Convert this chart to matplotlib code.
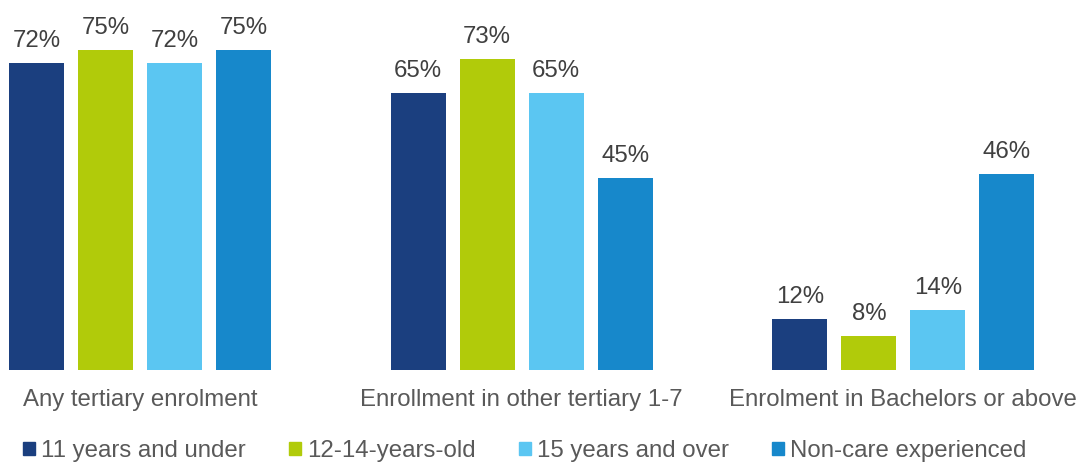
import matplotlib.pyplot as plt
import numpy as np
from matplotlib.patches import Patch

categories = ["Any tertiary enrolment", "Enrollment in other tertiary 1-7",
              "Enrolment in Bachelors or above"]
series = ["11 years and under", "12-14-years-old", "15 years and over",
          "Non-care experienced"]
values = [
    [72, 65, 12],
    [75, 73, 8],
    [72, 65, 14],
    [75, 45, 46],
]
colors = ["#1b3f7f", "#b1cb0a", "#5bc6f2", "#1788cb"]


def main():
    plt.rcParams["font.family"] = ["Liberation Sans", "DejaVu Sans"]
    fs = 17.3

    fig = plt.figure(figsize=(10.8, 4.62), dpi=100)
    ax = fig.add_axes([0, 92 / 462, 1, 370 / 462])

    x = np.arange(len(categories))
    step = 0.1808
    width = 0.144
    for i, (name, vals) in enumerate(zip(series, values)):
        bars = ax.bar(x + (i - 1.5) * step, vals, width, color=colors[i],
                      label=name)
        ax.bar_label(bars, labels=[f"{v}%" for v in vals], padding=8,
                     fontsize=fs, color="#404040")

    ax.set_xlim(-0.3668, 2.4627)
    ax.set_ylim(0, 86.8)
    ax.set_yticks([])
    ax.set_xticks(x)
    ax.set_xticklabels(categories, fontsize=fs, color="#595959")
    ax.tick_params(axis="x", length=0, pad=14)
    for s in ax.spines.values():
        s.set_visible(False)

    handles = [Patch(color=c) for c in colors]
    fig.legend(handles, series, loc="center", bbox_to_anchor=(0.486, 0.024),
               ncol=4, frameon=False, fontsize=fs, labelcolor="#595959",
               handlelength=0.5, handleheight=0.5, handletextpad=0.25,
               columnspacing=1.8, borderpad=0, borderaxespad=0)

    fig.savefig("out.png", dpi=100)


if __name__ == "__main__":
    main()
